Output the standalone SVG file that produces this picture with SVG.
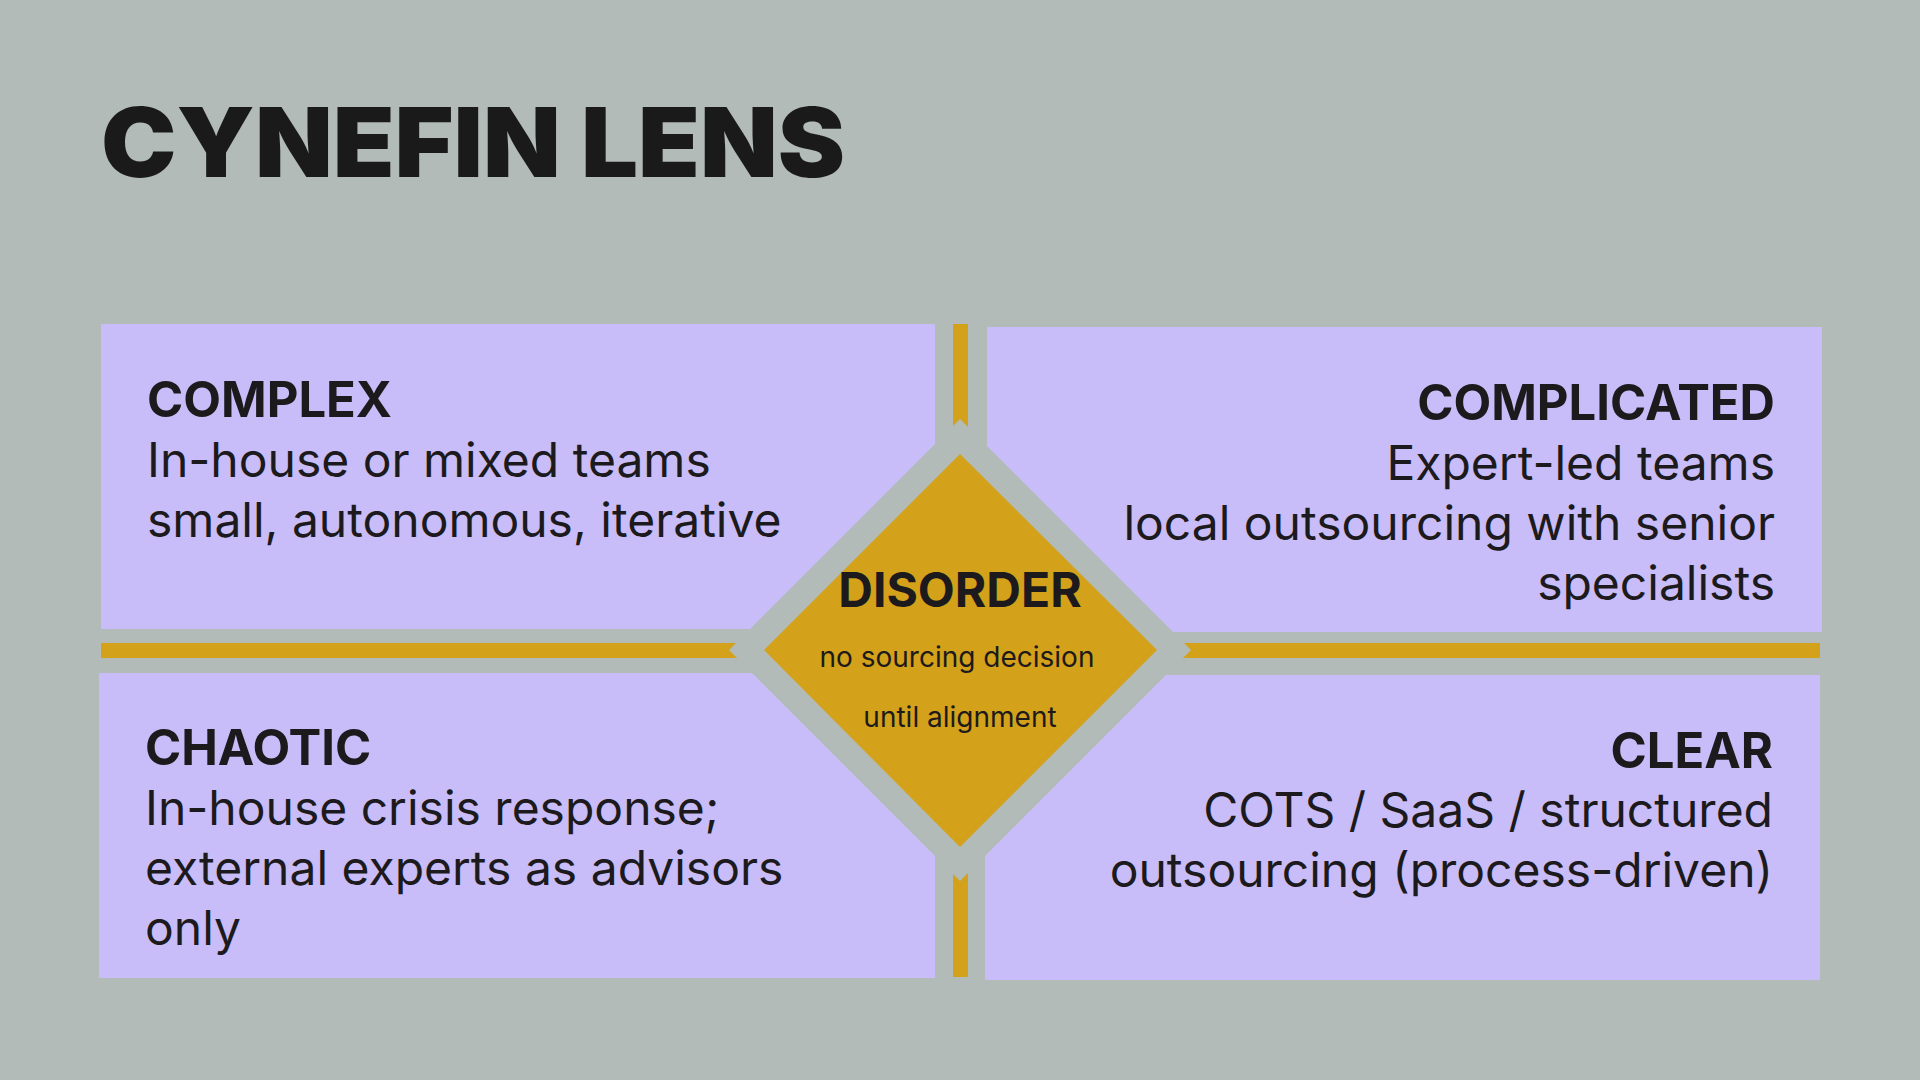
<svg xmlns="http://www.w3.org/2000/svg" width="1920" height="1080" viewBox="0 0 1920 1080">
<style>
.bg{fill:#b2bbb7}
.box{fill:#c8bdf8}
.gold{fill:#d4a11b}
.gap{fill:#b2bbb7}
.h{font-family:Inter,"Liberation Sans",sans-serif;font-weight:700;font-size:49px;fill:#1c1a1c}
.b{font-family:Inter,"Liberation Sans",sans-serif;font-weight:400;font-size:48px;fill:#1c1a1c}
.title{font-family:Inter,"Liberation Sans",sans-serif;font-weight:900;font-size:96px;fill:#1a1a1a}
.dh{font-family:Inter,"Liberation Sans",sans-serif;font-weight:700;font-size:48px;fill:#1c1a1c}
.ds{font-family:Inter,"Liberation Sans",sans-serif;font-weight:400;font-size:28px;fill:#1c1a1c}
</style>
<rect class="bg" x="0" y="0" width="1920" height="1080"/>
<text class="title" x="101" y="177" textLength="744" lengthAdjust="spacingAndGlyphs">CYNEFIN LENS</text>
<g id="complex">
<rect class="box" x="101" y="324" width="834" height="305"/>
<text class="h" x="147" y="417">COMPLEX</text>
<text class="b" x="147" y="477">In-house or mixed teams</text>
<text class="b" x="147" y="537">small, autonomous, iterative</text>
</g>
<g id="complicated">
<rect class="box" x="987" y="327" width="835" height="305"/>
<text class="h" x="1775" y="420" text-anchor="end">COMPLICATED</text>
<text class="b" x="1775" y="480" text-anchor="end">Expert-led teams</text>
<text class="b" x="1775" y="540" text-anchor="end">local outsourcing with senior</text>
<text class="b" x="1775" y="600" text-anchor="end">specialists</text>
</g>
<g id="chaotic">
<rect class="box" x="99" y="673" width="836" height="305"/>
<text class="h" x="145" y="765">CHAOTIC</text>
<text class="b" x="145" y="825">In-house crisis response;</text>
<text class="b" x="145" y="885">external experts as advisors</text>
<text class="b" x="145" y="945">only</text>
</g>
<g id="clear">
<rect class="box" x="985" y="675" width="835" height="305"/>
<text class="h" x="1773" y="768" text-anchor="end">CLEAR</text>
<text class="b" x="1773" y="827" text-anchor="end">COTS / SaaS / structured</text>
<text class="b" x="1773" y="887" text-anchor="end">outsourcing (process-driven)</text>
</g>
<g id="connectors">
<rect class="gold" x="101" y="643" width="1719" height="15"/>
<rect class="gold" x="953" y="324" width="15" height="653"/>
</g>
<g id="disorder">
<polygon class="gap" points="960,419 1191,650 960,881 729,650"/>
<polygon class="gold" points="960,454 1157,650 960,847 764,650"/>
<text class="dh" x="960" y="607" text-anchor="middle">DISORDER</text>
<text class="ds" x="957" y="667" text-anchor="middle">no sourcing decision</text>
<text class="ds" x="960" y="727" text-anchor="middle">until alignment</text>
</g>
</svg>
